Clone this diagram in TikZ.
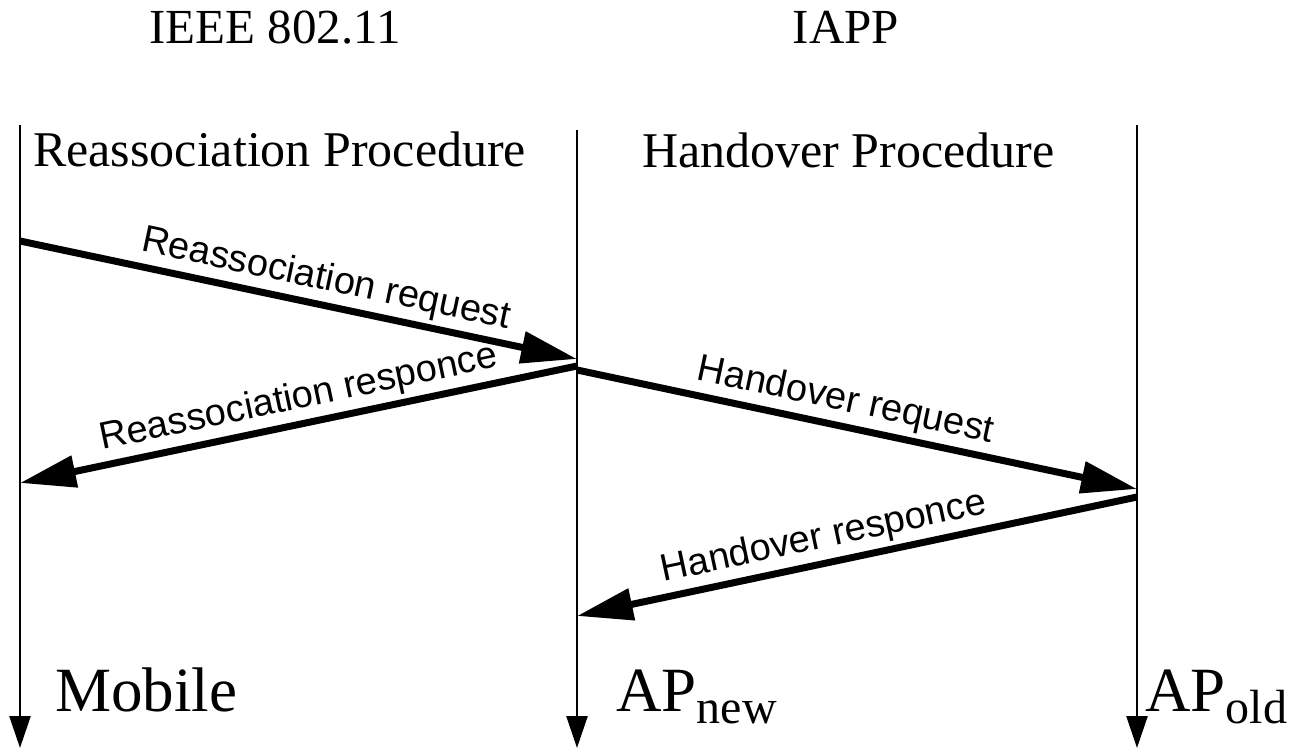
\documentclass[tikz,border=0pt]{standalone}
\usepackage{fontspec}
\setmainfont{Liberation Serif}
\setsansfont{Liberation Sans}
\usetikzlibrary{arrows.meta}

\begin{document}
\begin{tikzpicture}[x=1pt, y=-1pt,
  life/.style={line width=2.5pt, -{Triangle[length=32pt,width=21pt]}},
  msg/.style={line width=7pt, -{Triangle[length=56pt,width=31pt]}},
  msglabel/.style={font=\sffamily\fontsize{38}{44}\selectfont, sloped, above, inner sep=4pt},
  title/.style={font=\fontsize{49}{58}\selectfont, anchor=base, inner sep=0pt},
  proc/.style={font=\fontsize{50}{60}\selectfont, anchor=base west, inner sep=0pt},
  station/.style={font=\fontsize{63}{72}\selectfont, anchor=base west, inner sep=0pt}]
  \useasboundingbox (0,0) rectangle (1296,751);
  % layers
  \node[title] (ieee) at (275,44) {IEEE 802.11};
  \node[title] (iapp) at (846,44) {IAPP};
  \node[proc] (reproc) at (33,167) {Reassociation Procedure};
  \node[proc] (hoproc) at (642,168) {Handover Procedure};
  % lifelines
  \coordinate (mobtop) at (20,125);   \coordinate (mobend) at (20,748);
  \coordinate (newtop) at (577,130);  \coordinate (newend) at (577,748);
  \coordinate (oldtop) at (1137,125); \coordinate (oldend) at (1137,748);
  \draw[life] (mobtop) -- (mobend);
  \draw[life] (newtop) -- (newend);
  \draw[life] (oldtop) -- (oldend);
  \node[station] (mobile) at (55,711) {Mobile};
  \node[station] (apnew) at (616,711) {AP\raisebox{-12pt}{\fontsize{48}{50}\selectfont new}};
  \node[station] (apold) at (1145,711) {AP\raisebox{-12pt}{\fontsize{48}{50}\selectfont old}};
  % messages
  \coordinate (m1) at (20,241);   \coordinate (n1) at (577,359);
  \coordinate (n2) at (577,366);  \coordinate (m2) at (20,483);
  \coordinate (n3) at (577,370);  \coordinate (o3) at (1137,489);
  \coordinate (o4) at (1137,497); \coordinate (n4) at (577,616);
  \draw[msg] (m1) -- node[msglabel, pos=0.54] {Reassociation request} (n1);
  \draw[msg] (n2) -- node[msglabel, pos=0.49] {Reassociation responce} (m2);
  \draw[msg] (n3) -- node[msglabel, pos=0.47] {Handover request} (o3);
  \draw[msg] (o4) -- node[msglabel, pos=0.55] {Handover responce} (n4);
\end{tikzpicture}
\end{document}
